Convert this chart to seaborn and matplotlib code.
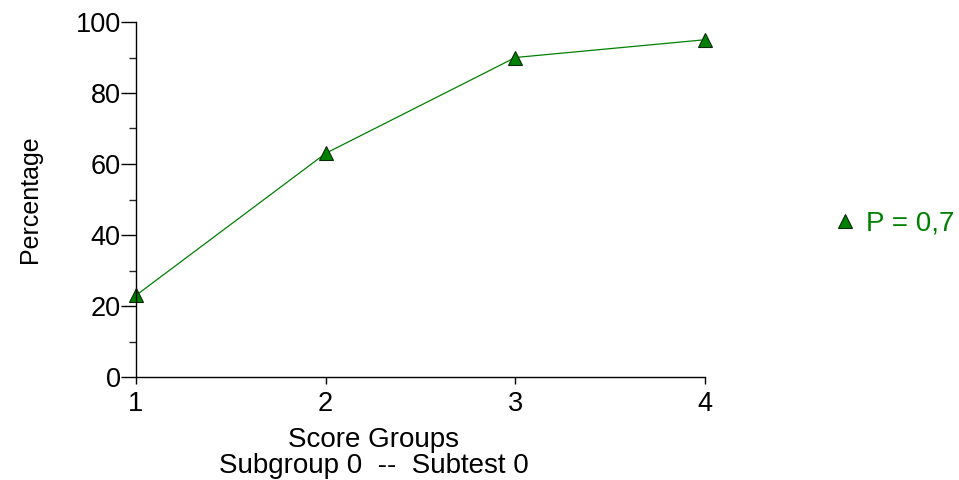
import matplotlib
matplotlib.use("Agg")
import matplotlib.pyplot as plt
import seaborn as sns
import pandas as pd
from matplotlib.ticker import MultipleLocator

groups = [1, 2, 3, 4]
percentage = [23, 63, 90, 95]
series_label = "P = 0,7"

sns.set_style("ticks")
plt.rcParams['font.family'] = ['Liberation Sans', 'DejaVu Sans']
plt.rcParams['text.color'] = 'black'
plt.rcParams['axes.labelcolor'] = 'black'

df = pd.DataFrame({"Score Group": groups, "Percentage": percentage, "series": series_label})

W, H = 959, 480
fig = plt.figure(figsize=(W / 100, H / 100), dpi=100)
ax = fig.add_axes([136 / W, 1 - 377 / H, (705 - 136) / W, (377 - 22) / H])

green = "#008000"
sns.lineplot(data=df, x="Score Group", y="Percentage", hue="series", palette=[green],
             marker="^", markersize=10, markerfacecolor=green, markeredgecolor="#0a2a0a",
             markeredgewidth=0.8, linewidth=0.9, ax=ax, clip_on=False)

ax.set_xlim(1, 4)
ax.set_ylim(0, 100)
ax.set_xticks(groups)
ax.set_xticklabels([str(g) for g in groups])
ax.yaxis.set_major_locator(MultipleLocator(20))
ax.yaxis.set_minor_locator(MultipleLocator(10))
ax.tick_params(axis="y", which="major", length=11, width=1, pad=0, labelsize=19.5, colors="black")
ax.tick_params(axis="y", which="minor", length=5, width=1)
ax.tick_params(axis="x", which="major", length=5, width=1, pad=5, labelsize=19.5, colors="black")
for s in ["top", "right"]:
    ax.spines[s].set_visible(False)
for s in ["left", "bottom"]:
    ax.spines[s].set_color("black")
    ax.spines[s].set_linewidth(1)

ax.set_xlabel("")
ax.set_ylabel("Percentage", fontsize=18)
ax.yaxis.set_label_coords(-0.165, 0.5)

fig.text(374 / W, 1 - 440 / H, "Score Groups", ha="center", va="center", fontsize=20)
fig.text(374 / W, 1 - 466 / H, "Subgroup 0  --  Subtest 0", ha="center", va="center", fontsize=20)

leg = ax.legend(loc="center left", bbox_to_anchor=(806 / W, 1 - 224 / H),
                bbox_transform=fig.transFigure, frameon=False, fontsize=20,
                labelcolor=green, handlelength=1.0, handletextpad=0.25)
for h in leg.legend_handles:
    h.set_linestyle("none")

fig.savefig("out.png", dpi=100)
